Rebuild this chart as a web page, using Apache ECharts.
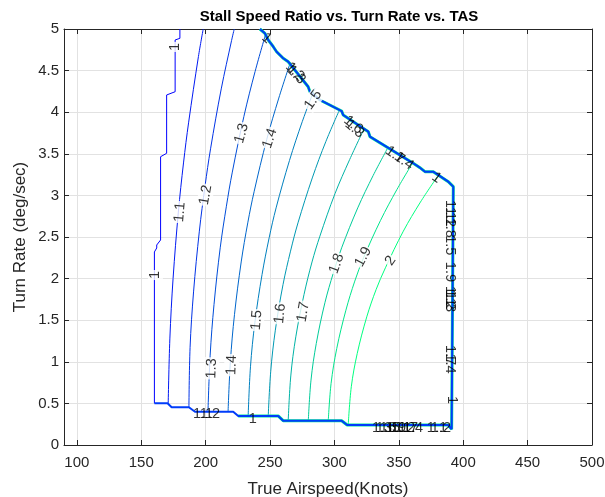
<!DOCTYPE html>
<html><head><meta charset="utf-8">
<script src="https://cdn.jsdelivr.net/npm/echarts@6/dist/echarts.min.js"></script>
<style>html,body{margin:0;padding:0;background:#fff}#c{width:605px;height:497px}</style>
</head><body><div id="c"></div>
<script>
// contour levels (stall speed ratio)
const levels = [1.0, 1.1, 1.2, 1.3, 1.4, 1.5, 1.6, 1.7, 1.8, 1.9, 2.0];
// axis ticks
const xTicks = [100, 150, 200, 250, 300, 350, 400, 450, 500];
const yTicks = [0, 0.5, 1, 1.5, 2, 2.5, 3, 3.5, 4, 4.5, 5];
// each contour: [TAS knots, turn rate deg/s]
const line10 = [[180.0,5.0],[180.0,4.888],[176.3,4.868],[176.3,4.246],[169.7,4.207],[169.7,3.506],[165.0,3.465],[165.0,2.464],[162.0,2.404],[162.0,2.368],[160.2,2.320],[160.2,0.501]];
const line11 = [[170.9,0.49],[172.2,1.275],[174.7,2.0],[178.8,2.8],[182.8,3.39],[186.8,3.88],[194.4,4.67],[198.1,5.0]];
const line12 = [[187.0,0.453],[187.9,1.17],[190.6,1.84],[195.1,2.57],[199.5,3.11],[203.8,3.56],[212.1,4.28],[220.1,4.86],[222.2,5.0]];
const line13 = [[201.8,0.40],[203.5,1.08],[206.5,1.69],[211.3,2.37],[216.1,2.87],[220.7,3.28],[229.7,3.95],[238.4,4.49],[246.8,4.95]];
const line14 = [[217.4,0.40],[219.2,1.00],[222.4,1.57],[227.6,2.20],[232.7,2.67],[237.7,3.05],[247.4,3.67],[256.8,4.17],[265.8,4.60]];
const line15 = [[233.0,0.35],[234.8,0.94],[238.2,1.47],[243.8,2.05],[249.3,2.49],[254.7,2.85],[265.1,3.42],[275.1,3.89],[284.8,4.29]];
const line16 = [[248.6,0.35],[250.5,0.88],[254.1,1.38],[260.1,1.93],[265.9,2.33],[271.7,2.67],[282.8,3.21],[293.4,3.65],[303.7,4.02]];
const line17 = [[264.1,0.29],[266.1,0.83],[270.0,1.30],[276.4,1.81],[282.6,2.20],[288.7,2.51],[300.4,3.02],[311.8,3.43],[322.7,3.79]];
const line18 = [[279.7,0.29],[281.8,0.78],[285.9,1.22],[292.6,1.71],[299.2,2.07],[305.6,2.37],[318.1,2.85],[330.1,3.24],[341.7,3.58]];
const line19 = [[295.2,0.29],[297.4,0.74],[301.8,1.16],[308.9,1.62],[315.8,1.97],[322.6,2.25],[335.8,2.70],[348.5,3.07],[360.7,3.39]];
const line20 = [[310.7,0.24],[313.1,0.70],[317.7,1.10],[325.1,1.54],[332.4,1.87],[339.6,2.13],[353.5,2.57],[366.8,2.92],[379.7,3.22]];
const contourLines = [line10, line11, line12, line13, line14, line15, line16, line17, line18, line19, line20];
// outer edge of the data region (where all contours pile up)
const boundary = [[160.2,0.501],[170.4,0.501],[173.6,0.453],[187.0,0.453],[191.7,0.400],[221.4,0.400],[225.3,0.349],[256.3,0.349],[260.2,0.292],[305.6,0.292],[309.9,0.240],[388.4,0.240],[391.0,0.190],[392.3,0.210],[392.3,3.105],[388.4,3.165],[376.7,3.285],[370.3,3.285],[366.4,3.333],[361.2,3.386],[344.4,3.546],[327.6,3.706],[326.3,3.766],[306.8,3.966],[305.6,4.014],[288.7,4.147],[281.0,4.246],[279.6,4.306],[264.1,4.607],[260.2,4.648],[255.1,4.727],[252.5,4.787],[248.6,4.868],[246.0,4.948],[242.1,5.0]];
// contour labels: [text, TAS, turn rate, rotation, clear background]
const contourLabels = [
  ['1',161.0,2.043,90,1],['1',176.1,4.784,90,1],['1.1',180.0,2.80,85,1],['1.2',200.0,3.005,80,1],
  ['1.3',227.9,3.746,75,1],['1.4',249.9,3.686,72,1],['1.3',204.6,0.92,88,1],['1.4',220.2,0.96,88,1],
  ['1.5',239.6,1.50,85,1],['1.6',257.7,1.58,84,1],['1.7',275.8,1.60,80,1],['1.8',301.7,2.18,70,1],
  ['1.9',322.4,2.26,62,1],['2',343.6,2.215,55,1],['1.5',283.5,4.147,55,1],
  ['1',247.3,4.888,-40,0],['1.2',269.3,4.487,-45,0],['1.3',270.3,4.45,-45,0],
  ['1.6',314.6,3.846,-40,0],['1.3',315.6,3.80,-40,0],['1.7',347.0,3.486,-35,0],['1.4',354.0,3.413,-35,0],['1',379.4,3.213,-35,0],
  ['1.1',390.0,2.825,-90,0],['1.2',390.0,2.74,-90,0],['1.8',390.0,2.61,-90,0],['1.5',390.0,2.40,-90,0],
  ['1.9',390.0,2.08,-90,0],['1.1',390.0,1.79,-90,0],['1.2',390.0,1.75,-90,0],['1.3',390.0,1.72,-90,0],
  ['1.7',390.0,1.08,-90,0],['1.4',390.0,0.98,-90,0],['1',391.0,0.54,-90,0],
  ['1.3',336.9,0.204,0,0],['1.6',340.0,0.204,0,0],['1.5',343.1,0.204,0,0],['1.9',347.8,0.204,0,0],['1.1',351.7,0.204,0,0],
  ['1.2',354.8,0.204,0,0],['1.7',357.1,0.204,0,0],['1.4',361.0,0.204,0,0],['1.1',379.6,0.204,0,0],['1.2',382.7,0.204,0,0],
  ['1.1',197.9,0.375,0,0],['1.2',203.3,0.375,0,0],['1',236.5,0.31,0,0]
];

const FONT = 'Liberation Sans, Arial, Helvetica, sans-serif';
const AX = '#262626';
const GRID = '#e2e2e2';
function winter(level) {
  const t = (level - 1.0) / 1.0;
  return 'rgb(0,' + Math.round(255 * t) + ',' + Math.round(255 * (1 - t / 2)) + ')';
}

const series = [];
contourLines.forEach(function (pts, i) {
  series.push({
    type: 'line', data: pts, showSymbol: false, symbol: 'none', smooth: i === 0 ? false : 0.35,
    lineStyle: { color: winter(levels[i]), width: 1 }, z: 2, silent: true
  });
});
series.push({ type: 'line', data: boundary.slice(6), showSymbol: false, symbol: 'none',
  lineStyle: { color: 'rgb(0,230,150)', width: 3 }, z: 3, silent: true });
series.push({ type: 'line', data: boundary, showSymbol: false, symbol: 'none',
  lineStyle: { color: 'rgb(0,60,250)', width: 2 }, z: 4, silent: true });
series.push({
  type: 'scatter', symbol: 'circle', symbolSize: 1, itemStyle: { color: 'rgba(0,0,0,0)' }, z: 10, silent: true,
  label: { show: true, position: 'inside', color: '#000', fontSize: 14.5, fontFamily: FONT,
           formatter: function (p) { return p.name; } },
  data: contourLabels.map(function (l) {
    return { name: l[0], value: [l[1], l[2]],
      label: { rotate: l[3], backgroundColor: l[4] ? '#fff' : 'transparent', padding: l[4] ? [0, 1] : 0 } };
  })
});

const chart = echarts.init(document.getElementById('c'), null, { renderer: 'canvas' });
chart.setOption({
  animation: false,
  backgroundColor: '#fff',
  title: { text: 'Stall Speed Ratio vs. Turn Rate vs. TAS', left: 334, top: 4, textAlign: 'center',
    textStyle: { fontFamily: FONT, fontSize: 15, fontWeight: 'bold', color: '#000' } },
  grid: { left: 64, top: 29, width: 528, height: 416, containLabel: false, outerBoundsMode: 'none' },
  xAxis: [
    { type: 'value', min: 90, max: 500, position: 'bottom',
      name: 'True Airspeed(Knots)', nameLocation: 'middle', nameGap: 36, nameMoveOverlap: false,
      nameTextStyle: { fontFamily: FONT, fontSize: 17, color: AX },
      axisLine: { onZero: false, lineStyle: { color: AX, width: 1 } },
      axisTick: { inside: true, length: 5, lineStyle: { color: AX }, customValues: xTicks },
      axisLabel: { fontFamily: FONT, fontSize: 15, color: AX, margin: 10, customValues: xTicks },
      splitLine: { show: true, lineStyle: { color: GRID, width: 1 } } },
    { type: 'value', min: 90, max: 500, position: 'top',
      axisLine: { onZero: false, lineStyle: { color: AX, width: 1 } },
      axisTick: { inside: true, length: 5, lineStyle: { color: AX }, customValues: xTicks },
      axisLabel: { show: false, customValues: xTicks }, splitLine: { show: false } }
  ],
  yAxis: [
    { type: 'value', min: 0, max: 5, interval: 0.5, position: 'left',
      name: 'Turn Rate (deg/sec)', nameLocation: 'middle', nameGap: 35, nameMoveOverlap: false,
      nameTextStyle: { fontFamily: FONT, fontSize: 17, color: AX },
      axisLine: { show: true, onZero: false, lineStyle: { color: AX, width: 1 } },
      axisTick: { show: true, inside: true, length: 5, lineStyle: { color: AX } },
      axisLabel: { fontFamily: FONT, fontSize: 15, color: AX, margin: 5 },
      splitLine: { show: true, lineStyle: { color: GRID, width: 1 } } },
    { type: 'value', min: 0, max: 5, interval: 0.5, position: 'right',
      axisLine: { show: true, onZero: false, lineStyle: { color: AX, width: 1 } },
      axisTick: { show: true, inside: true, length: 5, lineStyle: { color: AX } },
      axisLabel: { show: false }, splitLine: { show: false } }
  ],
  series: series
});
</script>
</body></html>
